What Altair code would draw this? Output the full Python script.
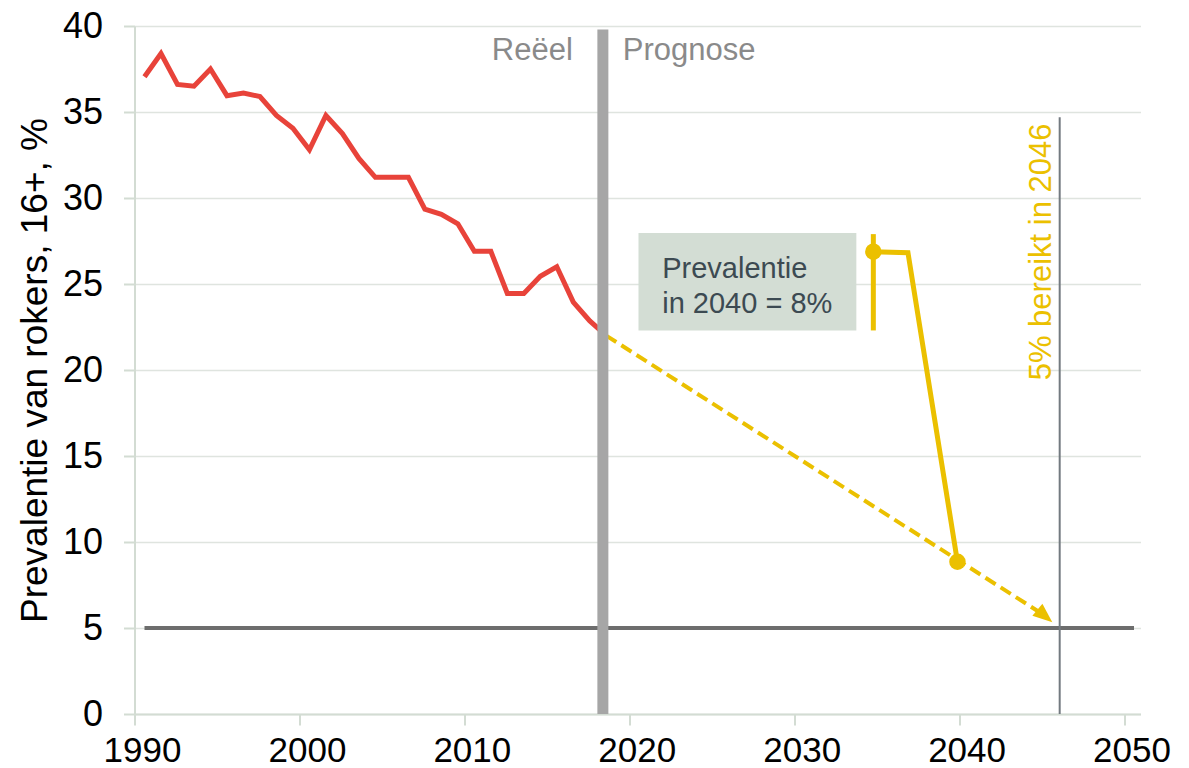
import altair as alt
import pandas as pd

FONT = "Liberation Sans"
YELLOW = "#EBC000"
RED = "#E8433A"

# Historical prevalence (red)
hist_years = list(range(1990, 2019))
hist_vals = [37.05, 38.4, 36.6, 36.5, 37.5, 35.95, 36.1, 35.9, 34.8, 34.05,
             32.8, 34.8, 33.75, 32.3, 31.2, 31.2, 31.2, 29.35, 29.05, 28.5,
             26.9, 26.9, 24.45, 24.45, 25.45, 26.0, 23.95, 22.85, 22.0]

# Forecast (dashed yellow) and arrow head
fc_years = [2018.6, 2045.1]
fc_vals = [22.0, 5.78]
arrow_year = [2045.2]
arrow_val = [5.7]

# Yellow solid scenario line with dots
scen_years = [2034.8, 2036.9, 2039.9]
scen_vals = [26.88, 26.82, 8.85]
dot_years = [2034.8, 2039.9]
dot_vals = [26.88, 8.85]
scen_bar_year = [2034.8]
scen_bar_lo = [22.3]
scen_bar_hi = [27.9]

# Reference lines
target_years = [1990, 2050]
target_vals = [5, 5]
reach_year = [2046.1]
reach_top = [34.7]
split_year = [2018.4]
split_top = [39.8]

# Annotation box and labels
box_x = [2020.56]
box_x2 = [2033.77]
box_y = [27.97]
box_y2 = [22.3]
box_lines = ["Prevalentie", "in 2040 = 8%"]

x_ticks = [1990, 2000, 2010, 2020, 2030, 2040, 2050]
x_tick_labels = ["1990", "2000", "2010", "2020", "2030", "2040", "2050"]
y_ticks = [0, 5, 10, 15, 20, 25, 30, 35, 40]

xs = alt.Scale(domain=[1990, 2051], nice=False, zero=False)
ys = alt.Scale(domain=[0, 40], nice=False)

AX_COL = "#d3dcd3"
x_axis = alt.Axis(values=x_ticks, format="d", title=None, grid=False, labels=False,
                  tickSize=11, tickWidth=2, tickColor=AX_COL,
                  domainColor=AX_COL, domainWidth=2)
y_axis = alt.Axis(values=y_ticks, format="d", title="Prevalentie van rokers, 16+, %",
                  grid=True, gridColor="#dfe4df", gridWidth=1.5,
                  labelFont=FONT, labelFontSize=36, labelColor="black",
                  labelPadding=21, tickSize=11, tickWidth=2, tickColor=AX_COL,
                  domainColor=AX_COL, domainWidth=2,
                  titleFont=FONT, titleFontSize=37, titleFontWeight="normal",
                  titleColor="black", titleAngle=270, titleX=-88, titleY=344,
                  titleAlign="center", titleBaseline="alphabetic")

hist = pd.DataFrame({"x": hist_years, "y": hist_vals})
fc = pd.DataFrame({"x": fc_years, "y": fc_vals})
scen = pd.DataFrame({"x": scen_years, "y": scen_vals})
dots = pd.DataFrame({"x": dot_years, "y": dot_vals})
target = pd.DataFrame({"x": target_years, "y": target_vals})
xlab = pd.DataFrame({"x": x_ticks, "t": x_tick_labels})

base_axes = alt.Chart(hist).mark_line(color=RED, strokeWidth=5, xOffset=10).encode(
    x=alt.X("x:Q", scale=xs, axis=x_axis),
    y=alt.Y("y:Q", scale=ys, axis=y_axis),
)

x_labels = alt.Chart(xlab).mark_text(
    font=FONT, fontSize=35, color="black", align="center", baseline="alphabetic", dx=8,
).encode(x="x:Q", y=alt.value(736), text="t:N")

box = alt.Chart(pd.DataFrame({"x": box_x, "x2": box_x2, "y": box_y, "y2": box_y2})).mark_rect(
    color="#d3ddd4").encode(x="x:Q", x2="x2:Q", y="y:Q", y2="y2:Q")
box_text = alt.Chart(pd.DataFrame({"x": [2022.0], "y": [25.33]})).mark_text(
    text=box_lines, font=FONT, fontSize=29, color="#3c4a52",
    align="left", baseline="alphabetic", lineHeight=35,
).encode(x="x:Q", y="y:Q")

forecast = alt.Chart(fc).mark_line(color=YELLOW, strokeWidth=4, strokeDash=[12, 6]).encode(
    x="x:Q", y="y:Q")
arrow = alt.Chart(pd.DataFrame({"x": arrow_year, "y": arrow_val})).mark_point(
    shape="M1,0L-1,-0.8L-1,0.8Z", filled=True, color=YELLOW, opacity=1,
    size=380, angle=40, strokeWidth=0,
).encode(x="x:Q", y="y:Q")

target_line = alt.Chart(target).mark_line(color="#6d6d6d", strokeWidth=4, xOffset=10).encode(
    x="x:Q", y="y:Q")
reach_line = alt.Chart(pd.DataFrame({"x": reach_year, "b": [0], "t": reach_top})).mark_rule(
    color="#737a80", strokeWidth=2).encode(x="x:Q", y="b:Q", y2="t:Q")
split_bar = alt.Chart(pd.DataFrame({"x": split_year, "b": [0], "t": split_top})).mark_rule(
    color="#a6a6a6", strokeWidth=11).encode(x="x:Q", y="b:Q", y2="t:Q")

scen_line = alt.Chart(scen).mark_line(color=YELLOW, strokeWidth=5).encode(x="x:Q", y="y:Q")
scen_bar = alt.Chart(pd.DataFrame({"x": scen_bar_year, "lo": scen_bar_lo, "hi": scen_bar_hi})).mark_rule(
    color=YELLOW, strokeWidth=5).encode(x="x:Q", y="lo:Q", y2="hi:Q")
scen_dots = alt.Chart(dots).mark_circle(color=YELLOW, opacity=1, size=270).encode(x="x:Q", y="y:Q")

lbl_df = pd.DataFrame({"x": split_year, "y": [38.0]})
lbl_reeel = alt.Chart(lbl_df).mark_text(
    text="Reëel", font=FONT, fontSize=31, color="#8a8a8a", align="right",
    baseline="alphabetic", dx=-30).encode(x="x:Q", y="y:Q")
lbl_progn = alt.Chart(lbl_df).mark_text(
    text="Prognose", font=FONT, fontSize=31, color="#8a8a8a", align="left",
    baseline="alphabetic", dx=20).encode(x="x:Q", y="y:Q")
lbl_reach = alt.Chart(pd.DataFrame({"x": [2045.6], "y": [19.4]})).mark_text(
    text="5% bereikt in 2046", font=FONT, fontSize=31, color=YELLOW, align="left",
    baseline="alphabetic", angle=270).encode(x="x:Q", y="y:Q")

chart = alt.layer(
    base_axes, x_labels, box, box_text, forecast, arrow, target_line, reach_line, split_bar,
    scen_line, scen_bar, scen_dots, lbl_reeel, lbl_progn, lbl_reach,
).properties(
    width=1006, height=688, background="white",
    autosize=alt.AutoSizeParams(type="none"),
    padding={"left": 134.5, "top": 26, "right": 48.5, "bottom": 54},
).configure_view(strokeWidth=0, stroke="transparent").configure_axisX(grid=False)

chart.save("out.html", embed_options={"renderer": "svg", "actions": False})
